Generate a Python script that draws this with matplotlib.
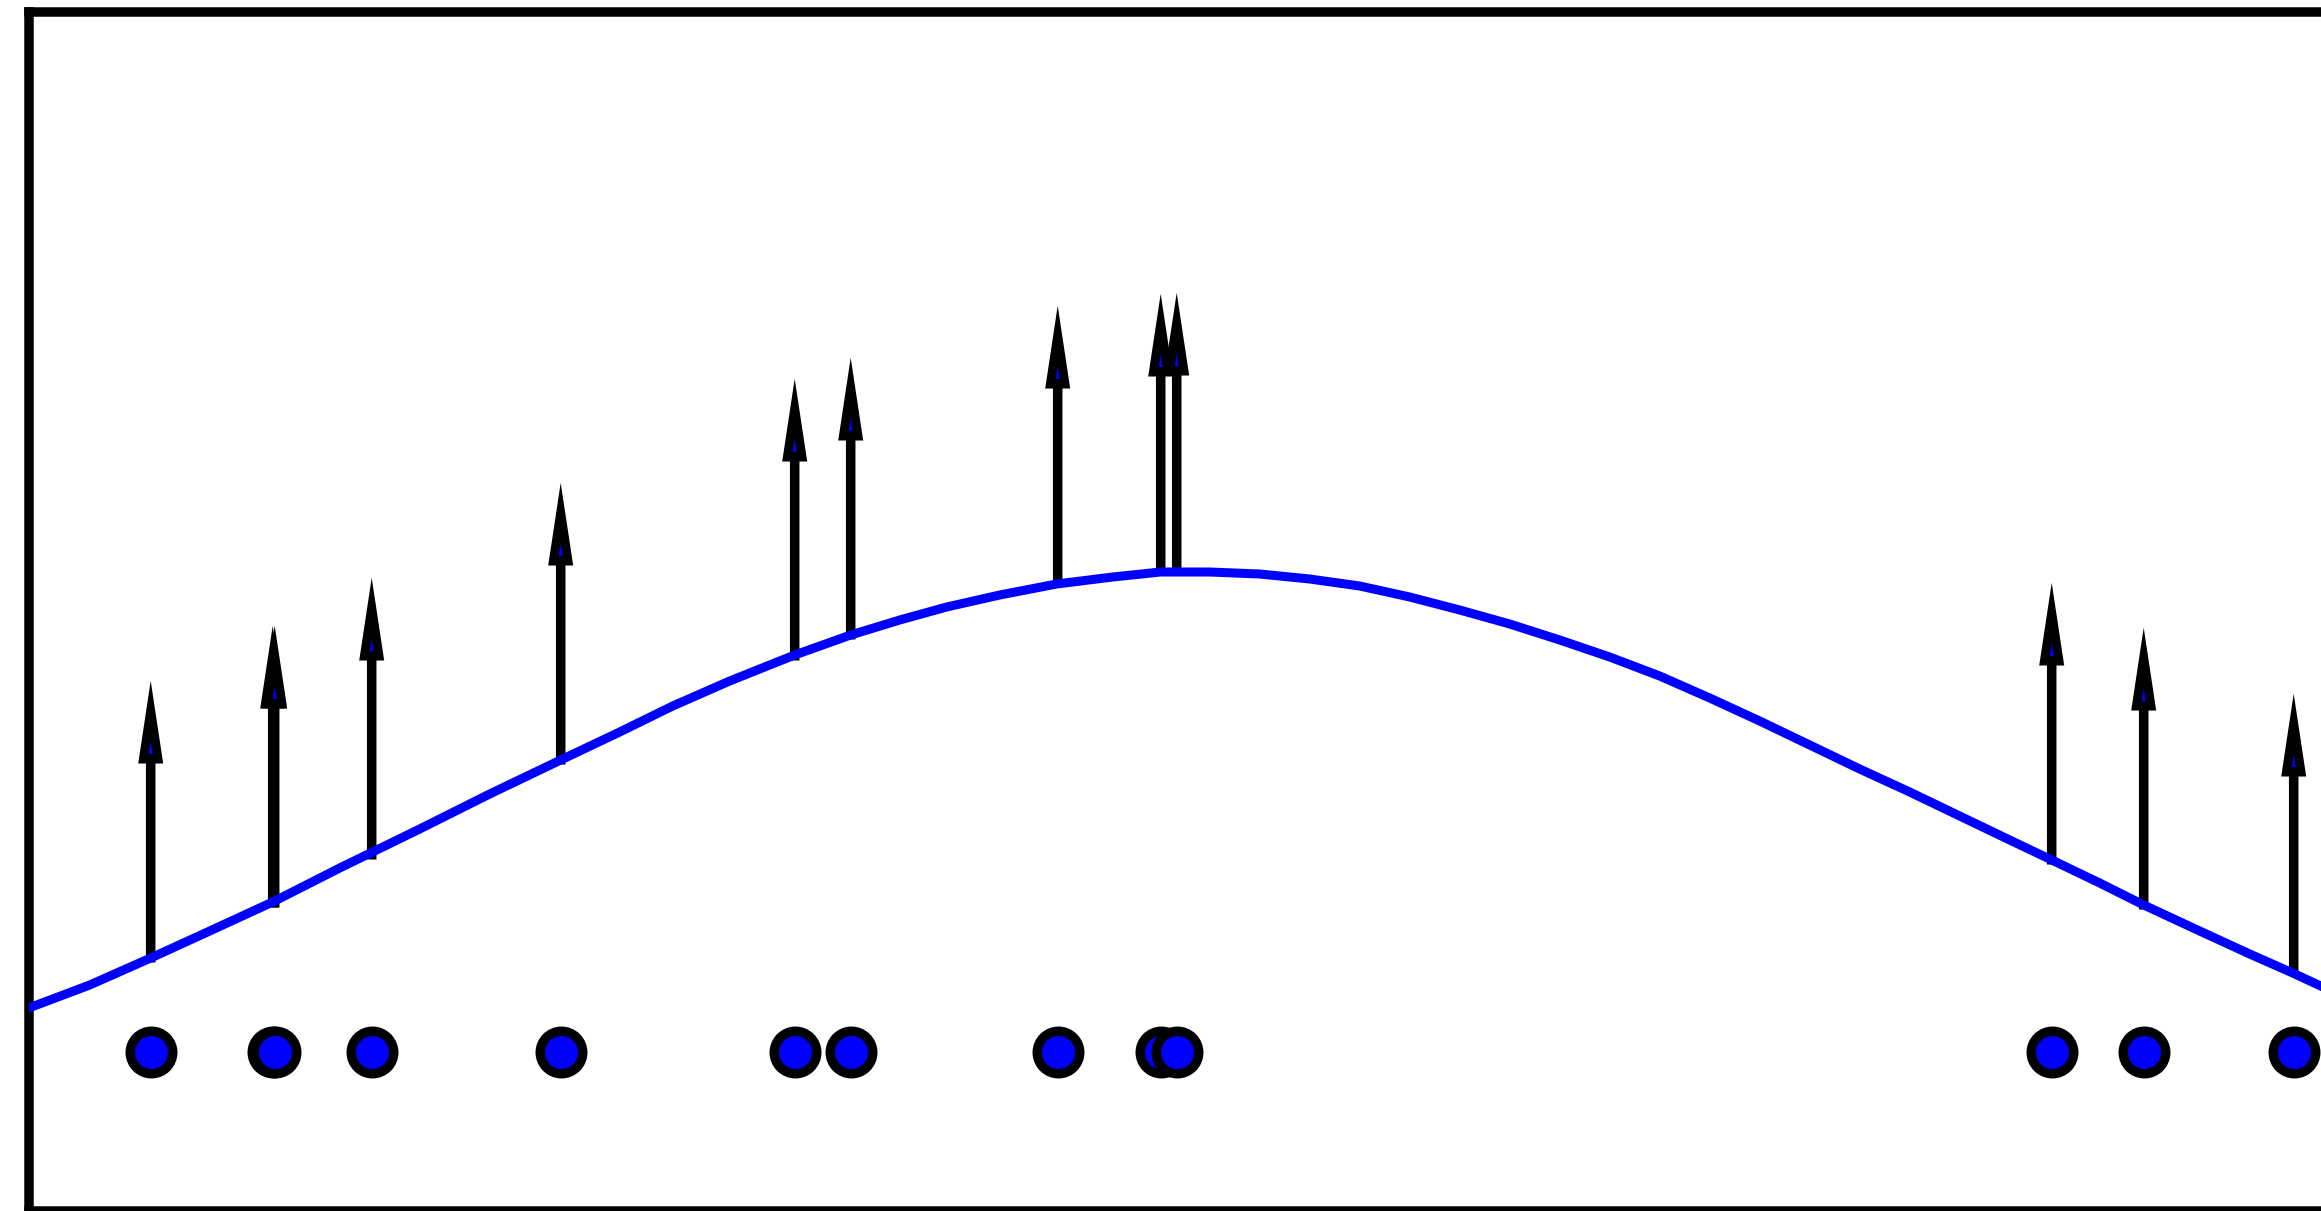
import matplotlib
matplotlib.use("Agg")
import matplotlib.pyplot as plt

# curve (x, y in plot units)
curve_x = [0.00, 0.61, 1.22, 1.81, 2.44, 3.11, 3.91, 4.61, 5.32, 5.91, 6.44, 7.01,
           7.66, 8.22, 8.71, 9.18, 9.71, 10.28, 10.84, 11.32, 11.81, 12.31, 12.81,
           13.31, 13.81, 14.31, 14.81, 15.31, 15.81, 16.31, 16.81, 17.31, 17.81,
           18.31, 18.81, 19.31, 19.81, 20.23, 20.71, 21.15, 21.71, 22.21, 22.64, 22.92]
curve_y = [2.03, 2.26, 2.53, 2.80, 3.09, 3.43, 3.82, 4.17, 4.51, 4.79, 5.05, 5.30,
           5.56, 5.76, 5.91, 6.04, 6.16, 6.27, 6.34, 6.39, 6.39, 6.37, 6.32,
           6.25, 6.14, 6.01, 5.87, 5.71, 5.54, 5.35, 5.13, 4.90, 4.66,
           4.42, 4.19, 3.95, 3.71, 3.51, 3.28, 3.06, 2.80, 2.57, 2.38, 2.25]

# sample points and the curve value at each of them
pts_x = [1.22, 2.44, 2.46, 3.43, 5.32, 7.66, 8.22, 10.29, 11.32, 11.48, 20.23, 21.15, 22.65]
pts_f = [2.53, 3.08, 3.08, 3.56, 4.51, 5.55, 5.76, 6.28, 6.40, 6.41, 3.51, 3.06, 2.40]
pts_level = 1.59
arrow_len = 2.47

fig = plt.figure(figsize=(23.21, 12.11), dpi=100)
ax = fig.add_axes([0.012366, 0.0, 1.0, 0.98984])

for x, f in zip(pts_x, pts_f):
    ax.arrow(x, f, 0, arrow_len, width=0.005, head_width=0.145, head_length=0.48,
             length_includes_head=True, fc="blue", ec="black", lw=6.5, zorder=2)

ax.plot(curve_x, curve_y, color="blue", lw=6.5, zorder=3)
ax.plot(pts_x, [pts_level] * len(pts_x), "o", ms=30.6, mfc="blue", mec="black",
        mew=6.8, zorder=4)

ax.set_xlim(0, 23.21)
ax.set_ylim(0, 11.987)
ax.set_xticks([])
ax.set_yticks([])
for s in ax.spines.values():
    s.set_linewidth(6.84)

fig.savefig("out.png", dpi=100)
